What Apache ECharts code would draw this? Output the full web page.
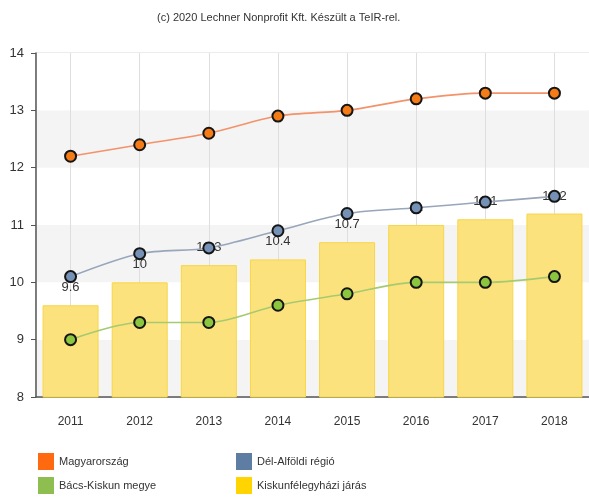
<!DOCTYPE html>
<html>
<head>
<meta charset="utf-8">
<script src="https://cdn.jsdelivr.net/npm/echarts@6/dist/echarts.min.js"></script>
<style>html,body{margin:0;padding:0;background:#fff;}#c{width:589px;height:503px;}</style>
</head>
<body>
<div id="c"></div>
<script>
const categories = ['2011','2012','2013','2014','2015','2016','2017','2018'];
const magyarorszag = [12.2, 12.4, 12.6, 12.9, 13.0, 13.2, 13.3, 13.3];
const delAlfoldi = [10.1, 10.5, 10.6, 10.9, 11.2, 11.3, 11.4, 11.5];
const bacsKiskun = [9.0, 9.3, 9.3, 9.6, 9.8, 10.0, 10.0, 10.1];
const kiskunfelegyhazi = [9.6, 10, 10.3, 10.4, 10.7, 11, 11.1, 11.2];
const yTicks = [8, 9, 10, 11, 12, 13, 14];

const chart = echarts.init(document.getElementById('c'), null, {renderer: 'canvas'});
const font = 'Liberation Sans';
function lineSeries(name, data, fill, line) {
  return {
    name: name, type: 'line', data: data, smooth: 0.3, z: 3,
    symbol: 'circle', symbolSize: 11,
    itemStyle: {color: fill, borderColor: '#151515', borderWidth: 2},
    lineStyle: {color: line, width: 1.6},
    emphasis: {disabled: true}
  };
}
function legendCol(left, items) {
  return {
    orient: 'horizontal', left: left, top: 453, width: 150, icon: 'rect',
    itemWidth: 16, itemHeight: 17, itemGap: 7, padding: 0,
    textStyle: {fontFamily: font, fontSize: 11, color: '#333'},
    data: items
  };
}
chart.setOption({
  animation: false,
  backgroundColor: '#fff',
  title: {
    text: '(c) 2020 Lechner Nonprofit Kft. Készült a TeIR-rel.',
    left: 152, top: 7,
    textStyle: {fontFamily: font, fontSize: 11, fontWeight: 'normal', color: '#333'}
  },
  legend: [
    legendCol(38, [
      {name: 'Magyarország', itemStyle: {color: '#FF6A10', borderWidth: 0}},
      {name: 'Bács-Kiskun megye', itemStyle: {color: '#8DBE4F', borderWidth: 0}}
    ]),
    legendCol(236, [
      {name: 'Dél-Alföldi régió', itemStyle: {color: '#5E7DA3', borderWidth: 0}},
      {name: 'Kiskunfélegyházi járás', itemStyle: {color: '#FFD400', borderWidth: 0}}
    ])
  ],
  grid: {left: 36, top: 53, width: 555, height: 344, show: true, borderColor: '#d8d8d8', borderWidth: 1, backgroundColor: 'transparent'},
  xAxis: {
    type: 'category', data: categories, boundaryGap: true,
    axisLine: {lineStyle: {color: '#555', width: 1.5}},
    axisTick: {alignWithLabel: true, length: 5, lineStyle: {color: '#555'}},
    axisLabel: {fontFamily: font, fontSize: 12, color: '#333', margin: 19},
    splitLine: {show: true, alignWithLabel: true, lineStyle: {color: '#dedede', width: 1}}
  },
  yAxis: {
    type: 'value', min: yTicks[0], max: yTicks[yTicks.length - 1], interval: 1,
    axisLine: {show: true, lineStyle: {color: '#555', width: 1.5}},
    axisTick: {show: true, length: 5, lineStyle: {color: '#555'}},
    axisLabel: {fontFamily: font, fontSize: 13, color: '#333', margin: 12},
    splitLine: {show: false},
    splitArea: {show: true, areaStyle: {color: ['#f4f4f4', '#ffffff']}}
  },
  series: [
    {
      name: 'Kiskunfélegyházi járás', type: 'bar', data: kiskunfelegyhazi, barWidth: 56, z: 2,
      itemStyle: {color: '#FCE27C', borderColor: '#F7D647', borderWidth: 1},
      label: {show: true, position: 'top', distance: 11, fontFamily: font, fontSize: 13, color: '#333'},
      emphasis: {disabled: true}
    },
    lineSeries('Magyarország', magyarorszag, '#F47B16', '#F4926A'),
    lineSeries('Dél-Alföldi régió', delAlfoldi, '#7592B6', '#98A6BA'),
    lineSeries('Bács-Kiskun megye', bacsKiskun, '#8CC63F', '#A6CA70')
  ]
});
</script>
</body>
</html>
